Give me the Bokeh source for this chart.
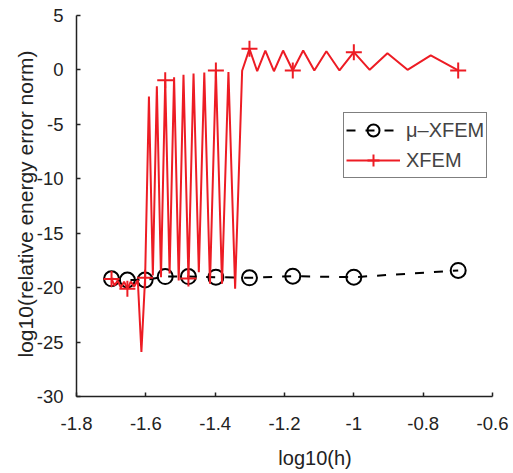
from bokeh.plotting import figure
from bokeh.models import Range1d, FixedTicker, CustomJSTickFormatter, Legend, LegendItem, Title
from bokeh.embed import file_html
from bokeh.resources import INLINE
import numpy as np

# mesh parameter n (h = 1/n)
n_all = list(range(50, 4, -1))
xfem_all = [
    -19.2, -19.8, -19.35, -20.0, -19.45, -20.1, -19.45, -19.9, -19.3, -25.9,   # n=50..41
    -19.1, -2.44, -18.88, -1.50, -19.04, -0.95, -18.70, -0.67, -19.34, -0.44,  # n=40..31
    -19.16, -0.33, -18.58, -0.24, -19.65, -0.05, -19.65, -0.19, -20.1, -0.08,  # n=30..21
    1.94, -0.12, 1.78, -0.12, 1.78, -0.05, 1.78, -0.05, 1.72, -0.05,           # n=20..11
    1.63, 0.01, 1.54, 0.01, 1.33, -0.05,                                         # n=10..5
]
n_mark = [50, 45, 40, 35, 30, 25, 20, 15, 10, 5]
mu_xfem = [-19.19, -19.3, -19.3, -18.98, -18.98, -19.04, -19.1, -18.95, -19.04, -18.42]

x_all = [-np.log10(n) for n in n_all]
x_mark = [-np.log10(n) for n in n_mark]
xfem_mark = [xfem_all[n_all.index(n)] for n in n_mark]

x_ticks = [-1.8, -1.6, -1.4, -1.2, -1.0, -0.8, -0.6]
y_ticks = [-30, -25, -20, -15, -10, -5, 0, 5]

RED = "#ed1c24"
INK = "#222222"
FONT = "Liberation Sans"

p = figure(width=510, height=472, output_backend="svg", toolbar_location=None,
           x_range=Range1d(-1.8, -0.6), y_range=Range1d(-30, 5),
           min_border_left=76, min_border_right=18, min_border_top=15, min_border_bottom=76)
p.outline_line_color = None
p.grid.visible = False

fmt = CustomJSTickFormatter(code="return String(Number(tick.toFixed(1)));")
for ax, ticks in ((p.xaxis, x_ticks), (p.yaxis, y_ticks)):
    ax.ticker = FixedTicker(ticks=ticks)
    ax.formatter = fmt
    ax.major_tick_in = 4
    ax.major_tick_out = 0
    ax.minor_tick_line_color = None
    ax.axis_line_width = 1.5
    ax.major_tick_line_width = 1.5
    ax.axis_line_color = INK
    ax.major_tick_line_color = INK
    ax.major_label_text_font = FONT
    ax.major_label_text_font_size = "18.5px"
    ax.major_label_text_color = INK
p.xaxis.major_label_standoff = 20
p.yaxis.major_label_standoff = 13

# x title: the reference's label sits ~30 px right of the frame centre
p.xaxis.axis_label = "\u00a0" * 11 + "log10(h)"
p.xaxis.axis_label_standoff = 14
p.xaxis.axis_label_text_font = FONT
p.xaxis.axis_label_text_font_size = "20px"
p.xaxis.axis_label_text_font_style = "normal"
p.xaxis.axis_label_text_color = INK

ylab = Title(text="log10(relative energy error norm)", align="left", offset=39, standoff=-6,
             text_font=FONT, text_font_size="21px", text_font_style="normal", text_color=INK)
p.add_layout(ylab, "left")

mu_line = p.line(x_mark, mu_xfem, line_color="black", line_width=2, line_dash="9 10")
mu_pts = p.scatter(x_mark, mu_xfem, marker="circle", size=15, fill_color=None,
                   line_color="black", line_width=2)
x_line = p.line(x_all, xfem_all, line_color=RED, line_width=2)
x_pts = p.scatter(x_mark, xfem_mark, marker="cross", size=16, line_color=RED, line_width=2)

legend = Legend(items=[LegendItem(label="μ–XFEM", renderers=[mu_line, mu_pts]),
                       LegendItem(label="XFEM", renderers=[x_line, x_pts])],
                location=(267, 218))
legend.label_text_font = FONT
legend.label_text_font_size = "20px"
legend.glyph_width = 54
legend.glyph_height = 30
legend.label_height = 20
legend.label_standoff = 6
legend.spacing = -3
legend.padding = 2
legend.margin = 0
legend.border_line_color = "black"
legend.border_line_width = 1
legend.background_fill_alpha = 1
p.add_layout(legend, "center")

open("out.html", "w").write(file_html(p, INLINE))
